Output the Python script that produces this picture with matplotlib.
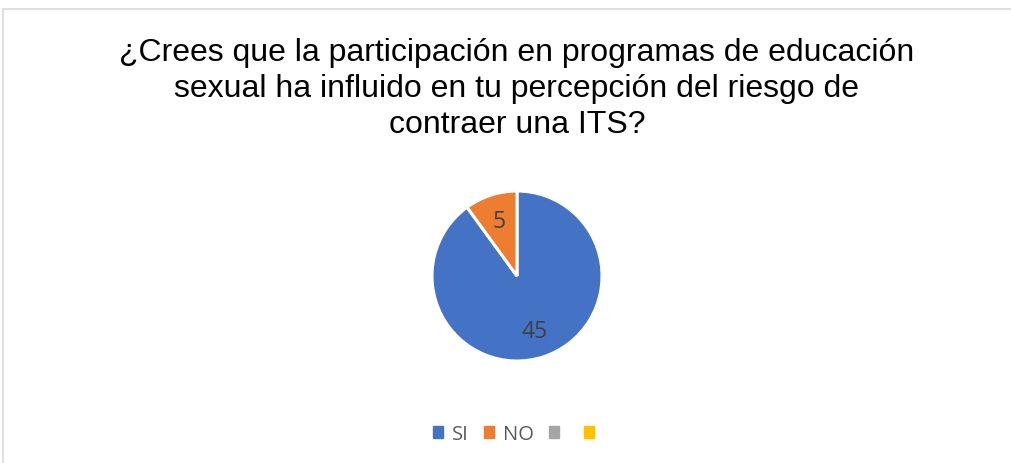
import matplotlib.pyplot as plt
import matplotlib.patches as mpatches

# === 数据 ===
categories = ["SI", "NO", "", ""]
values = [45, 5]
colors = ["#4472C4", "#ED7D31", "#A5A5A5", "#FFC000"]
title = ("¿Crees que la participación en programas de educación\n"
         "sexual ha influido en tu percepción del riesgo de\n"
         "contraer una ITS?")

W, H = 1011, 464
fig = plt.figure(figsize=(W / 100, H / 100), dpi=100)

# marco gris del gráfico
fig.patches.append(mpatches.Rectangle((3 / W, -0.05), 1.1, 1 - 10 / H + 0.05,
                                      transform=fig.transFigure, fill=False,
                                      edgecolor="#D9D9D9", linewidth=1.2))

fig.text(517 / W, 1 - 89 / H, title, ha="center", va="center",
         fontsize=23, family="Liberation Sans", color="#000000", linespacing=1.24)

# === pastel ===
cx, cy, r = 517, 277, 85
ax = fig.add_axes([(cx - r) / W, 1 - (cy + r) / H, 2 * r / W, 2 * r / H])
wedges, texts, autotexts = ax.pie(
    values, colors=colors[:2], startangle=90, counterclock=False,
    autopct=lambda p: f"{round(p * sum(values) / 100)}", pctdistance=0.68,
    wedgeprops=dict(edgecolor="white", linewidth=2.2),
    textprops=dict(fontsize=16.5, color="#404040", family="Open Sans"))
ax.set_xlim(-1, 1)
ax.set_ylim(-1, 1)
ax.set_aspect("auto")
ax.axis("off")

# === leyenda ===
handles = [mpatches.Patch(color=c, label=l) for c, l in zip(colors, categories)]
fig.legend(handles=handles, loc="center", bbox_to_anchor=(518 / W, 1 - 435 / H),
           ncol=4, frameon=False, handlelength=0.5, handleheight=0.5,
           handletextpad=0.45, columnspacing=0.75,
           prop=dict(family="Open Sans", size=14.5), labelcolor="#595959")

plt.savefig("out.png", dpi=100)
